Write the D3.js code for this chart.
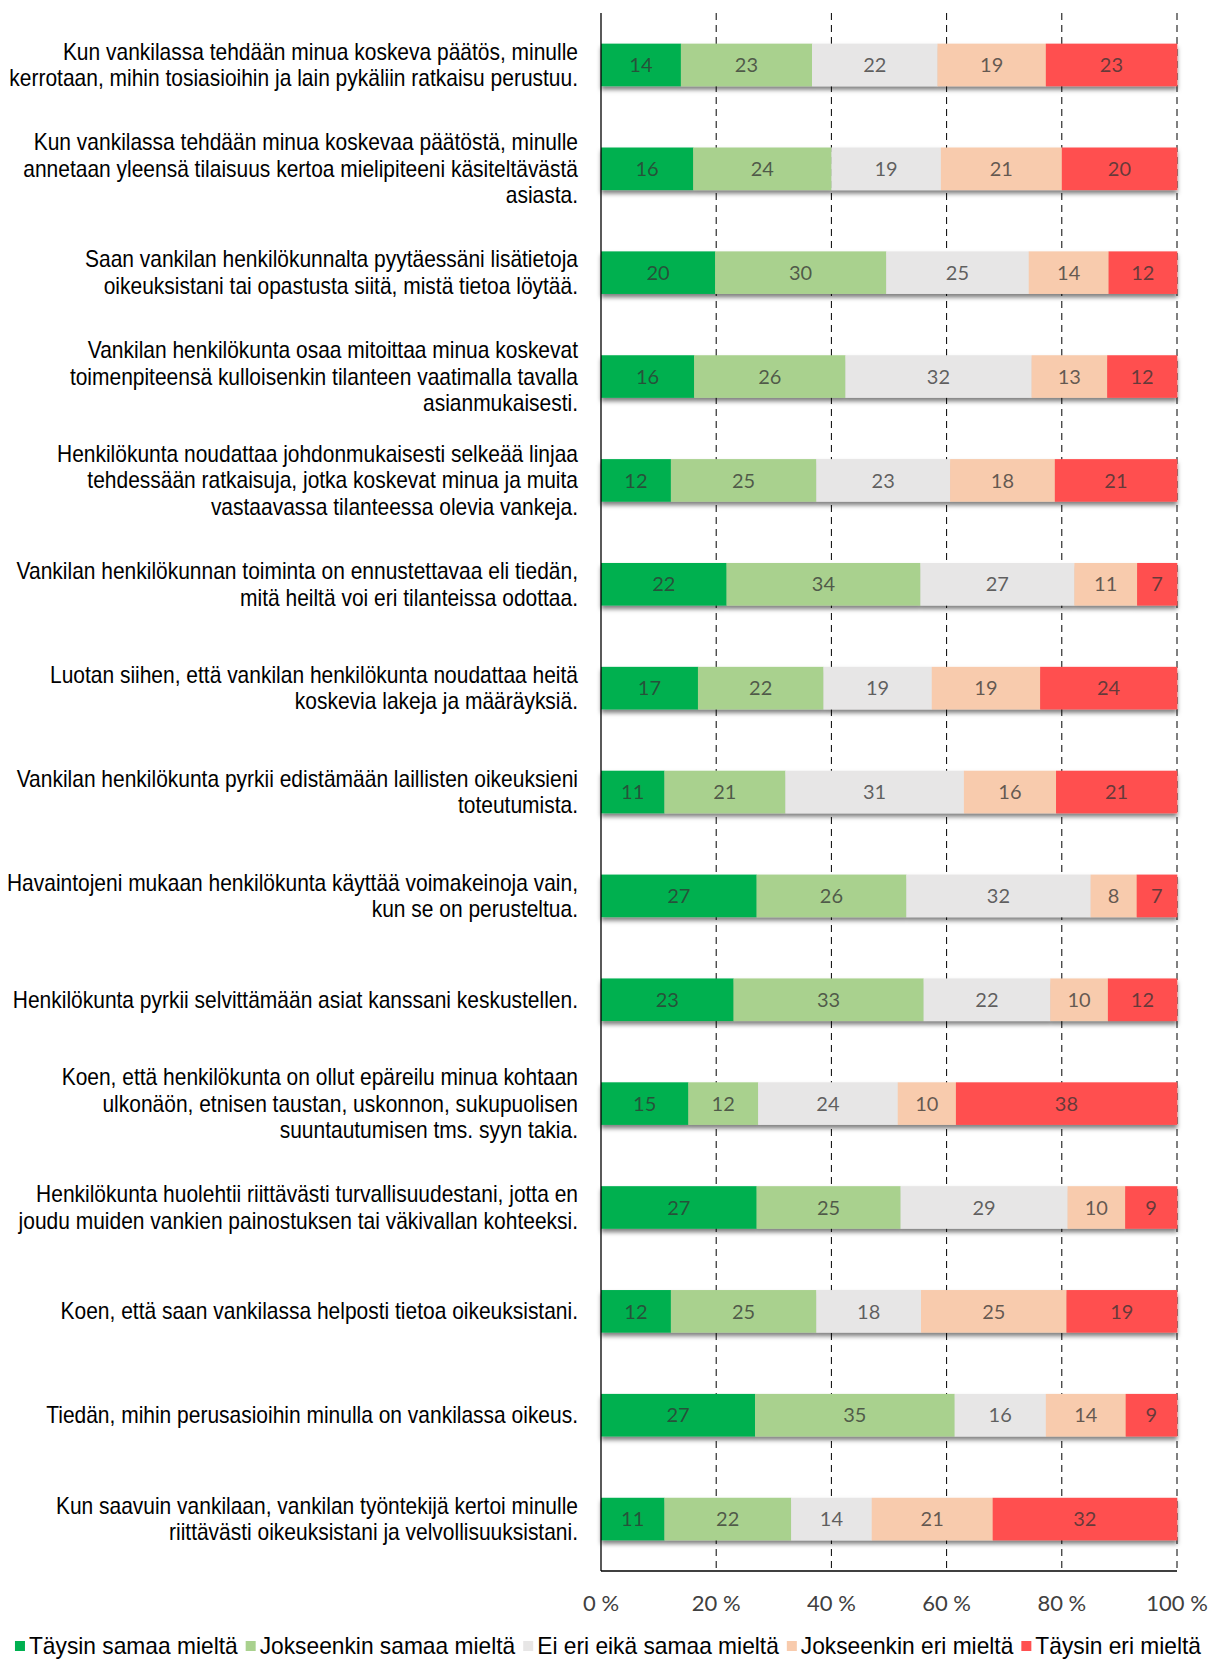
<!DOCTYPE html>
<html>
<head>
<meta charset="utf-8">
<script src="https://cdn.jsdelivr.net/npm/d3@7"></script>
<style>
  body { margin: 0; background: #fff; }
  svg { display: block; }
</style>
</head>
<body>
<div id="chart"></div>
<script>
var width = 1212,
    height = 1663;

// statements (each row is one array of lines)
var statements = [
  ["Kun vankilassa tehdään minua koskeva päätös, minulle", "kerrotaan, mihin tosiasioihin ja lain pykäliin ratkaisu perustuu."],
  ["Kun vankilassa tehdään minua koskevaa päätöstä, minulle", "annetaan yleensä tilaisuus kertoa mielipiteeni käsiteltävästä", "asiasta."],
  ["Saan vankilan henkilökunnalta pyytäessäni lisätietoja", "oikeuksistani tai opastusta siitä, mistä tietoa löytää."],
  ["Vankilan henkilökunta osaa mitoittaa minua koskevat", "toimenpiteensä kulloisenkin tilanteen vaatimalla tavalla", "asianmukaisesti."],
  ["Henkilökunta noudattaa johdonmukaisesti selkeää linjaa", "tehdessään ratkaisuja, jotka koskevat minua ja muita", "vastaavassa tilanteessa olevia vankeja."],
  ["Vankilan henkilökunnan toiminta on ennustettavaa eli tiedän,", "mitä heiltä voi eri tilanteissa odottaa."],
  ["Luotan siihen, että vankilan henkilökunta noudattaa heitä", "koskevia lakeja ja määräyksiä."],
  ["Vankilan henkilökunta pyrkii edistämään laillisten oikeuksieni", "toteutumista."],
  ["Havaintojeni mukaan henkilökunta käyttää voimakeinoja vain,", "kun se on perusteltua."],
  ["Henkilökunta pyrkii selvittämään asiat kanssani keskustellen."],
  ["Koen, että henkilökunta on ollut epäreilu minua kohtaan", "ulkonäön, etnisen taustan, uskonnon, sukupuolisen", "suuntautumisen tms. syyn takia."],
  ["Henkilökunta huolehtii riittävästi turvallisuudestani, jotta en", "joudu muiden vankien painostuksen tai väkivallan kohteeksi."],
  ["Koen, että saan vankilassa helposti tietoa oikeuksistani."],
  ["Tiedän, mihin perusasioihin minulla on vankilassa oikeus."],
  ["Kun saavuin vankilaan, vankilan työntekijä kertoi minulle", "riittävästi oikeuksistani ja velvollisuuksistani."]
];

var seriesNames = ["Täysin samaa mieltä", "Jokseenkin samaa mieltä", "Ei eri eikä samaa mieltä", "Jokseenkin eri mieltä", "Täysin eri mieltä"];
var seriesColors = ["#00b050", "#a9d18e", "#e7e6e6", "#f8cbad", "#ff5050"];

var taysinSamaa    = [14, 16, 20, 16, 12, 22, 17, 11, 27, 23, 15, 27, 12, 27, 11];
var jokseenkinSamaa = [23, 24, 30, 26, 25, 34, 22, 21, 26, 33, 12, 25, 25, 35, 22];
var eiEriEikaSamaa = [22, 19, 25, 32, 23, 27, 19, 31, 32, 22, 24, 29, 18, 16, 14];
var jokseenkinEri  = [19, 21, 14, 13, 18, 11, 19, 16, 8, 10, 10, 10, 25, 14, 21];
var taysinEri      = [23, 20, 12, 12, 21, 7, 24, 21, 7, 12, 38, 9, 19, 9, 32];

var tickValues = [0, 0.2, 0.4, 0.6, 0.8, 1];

var series = [taysinSamaa, jokseenkinSamaa, eiEriEikaSamaa, jokseenkinEri, taysinEri];

// rows with stacked, normalised segments (100 % stacked)
var rows = statements.map(function (s, i) {
  var vals = series.map(function (arr) { return arr[i]; });
  var total = d3.sum(vals), acc = 0;
  var segs = vals.map(function (v, k) {
    var seg = {v: v, k: k, x0: acc / total, x1: (acc + v) / total};
    acc += v;
    return seg;
  });
  return {i: i, lines: s, segs: segs};
});

var plotLeft = 601, plotRight = 1177, plotTop = 13, plotBottom = 1571;
var narrowFont = '"Liberation Sans", Arial, sans-serif';

var x = d3.scaleLinear().domain([0, 1]).range([plotLeft, plotRight]);
var y = d3.scaleBand().domain(d3.range(statements.length))
    .range([plotTop, plotBottom]).paddingInner(0.59).paddingOuter(0.295);

var svg = d3.select('#chart').append('svg')
    .attr('width', width)
    .attr('height', height);

var defs = svg.append('defs');
var shadow = defs.append('filter').attr('id', 'shadow')
    .attr('x', '-5%').attr('y', '-30%').attr('width', '110%').attr('height', '180%');
shadow.append('feDropShadow')
    .attr('dx', 0).attr('dy', 3.5).attr('stdDeviation', 2.2)
    .attr('flood-color', '#000').attr('flood-opacity', 0.5);

// dashed gridlines
svg.append('g').selectAll('line').data(tickValues.slice(1))
  .enter().append('line')
    .attr('x1', function (d) { return x(d); })
    .attr('x2', function (d) { return x(d); })
    .attr('y1', plotTop)
    .attr('y2', plotBottom)
    .style('stroke', '#000')
    .style('stroke-width', 1)
    .style('stroke-dasharray', '7,5');

// bars
var rowG = svg.append('g').selectAll('g.row').data(rows)
  .enter().append('g')
    .attr('class', 'row')
    .attr('transform', function (d) { return 'translate(0,' + y(d.i) + ')'; });

rowG.append('g').attr('filter', 'url(#shadow)')
  .selectAll('rect').data(function (d) { return d.segs; })
  .enter().append('rect')
    .attr('x', function (d) { return x(d.x0); })
    .attr('width', function (d) { return x(d.x1) - x(d.x0) + 0.3; })
    .attr('height', y.bandwidth())
    .style('fill', function (d) { return seriesColors[d.k]; });

rowG.selectAll('text.val').data(function (d) { return d.segs; })
  .enter().append('text')
    .attr('class', 'val')
    .attr('x', function (d) { return (x(d.x0) + x(d.x1)) / 2; })
    .attr('y', y.bandwidth() / 2)
    .attr('dy', '0.36em')
    .attr('text-anchor', 'middle')
    .style('font-family', 'Lato, "Open Sans", sans-serif')
    .style('font-size', '20px')
    .style('fill', '#333')
    .style('fill-opacity', 0.75)
    .text(function (d) { return d.v; });

// category labels (horizontally squeezed to imitate a narrow face)
var lineH = 26.5;
rowG.append('text')
    .attr('text-anchor', 'end')
    .attr('transform', 'translate(578,' + (y.bandwidth() / 2) + ') scale(0.912,1)')
    .style('font-family', narrowFont)
    .style('font-size', '23px')
    .style('fill', '#000')
    .each(function (d) {
      var t = d3.select(this);
      var n = d.lines.length;
      d.lines.forEach(function (l, j) {
        t.append('tspan')
          .attr('x', 0)
          .attr('y', (j - (n - 1) / 2) * lineH)
          .attr('dy', '0.35em')
          .text(l);
      });
    });

// axis lines
svg.append('line')
    .attr('x1', plotLeft).attr('x2', plotLeft)
    .attr('y1', plotTop).attr('y2', plotBottom)
    .style('stroke', '#000').style('stroke-width', 1.3);
svg.append('line')
    .attr('x1', plotLeft).attr('x2', plotRight)
    .attr('y1', plotBottom).attr('y2', plotBottom)
    .style('stroke', '#000').style('stroke-width', 1.3);

// tick labels
svg.append('g').selectAll('text').data(tickValues)
  .enter().append('text')
    .attr('x', function (d) { return x(d); })
    .attr('y', 1603)
    .attr('dy', '0.35em')
    .attr('text-anchor', 'middle')
    .style('font-family', 'Lato, "Open Sans", sans-serif')
    .style('font-size', '22px')
    .style('fill', '#404040')
    .text(function (d) { return Math.round(d * 100) + ' %'; });

// legend
var legScale = 0.99;
var legend = svg.append('g').attr('transform', 'translate(0,1646)');
var items = legend.selectAll('g').data(seriesNames)
  .enter().append('g');
items.append('rect')
    .attr('y', -5).attr('width', 10).attr('height', 10)
    .style('fill', function (d, i) { return seriesColors[i]; });
items.append('text')
    .attr('transform', 'translate(14,0) scale(' + legScale + ',1)')
    .attr('dy', '0.35em')
    .style('font-family', narrowFont)
    .style('font-size', '23px')
    .style('fill', '#000')
    .text(function (d) { return d; });
var pos = 0, offsets = [];
items.each(function () {
  offsets.push(pos);
  pos += 14 + d3.select(this).select('text').node().getComputedTextLength() * legScale + 8;
});
var total = pos - 8, startX = 608 - total / 2;
items.attr('transform', function (d, i) { return 'translate(' + (startX + offsets[i]) + ',0)'; });
</script>
</body>
</html>
